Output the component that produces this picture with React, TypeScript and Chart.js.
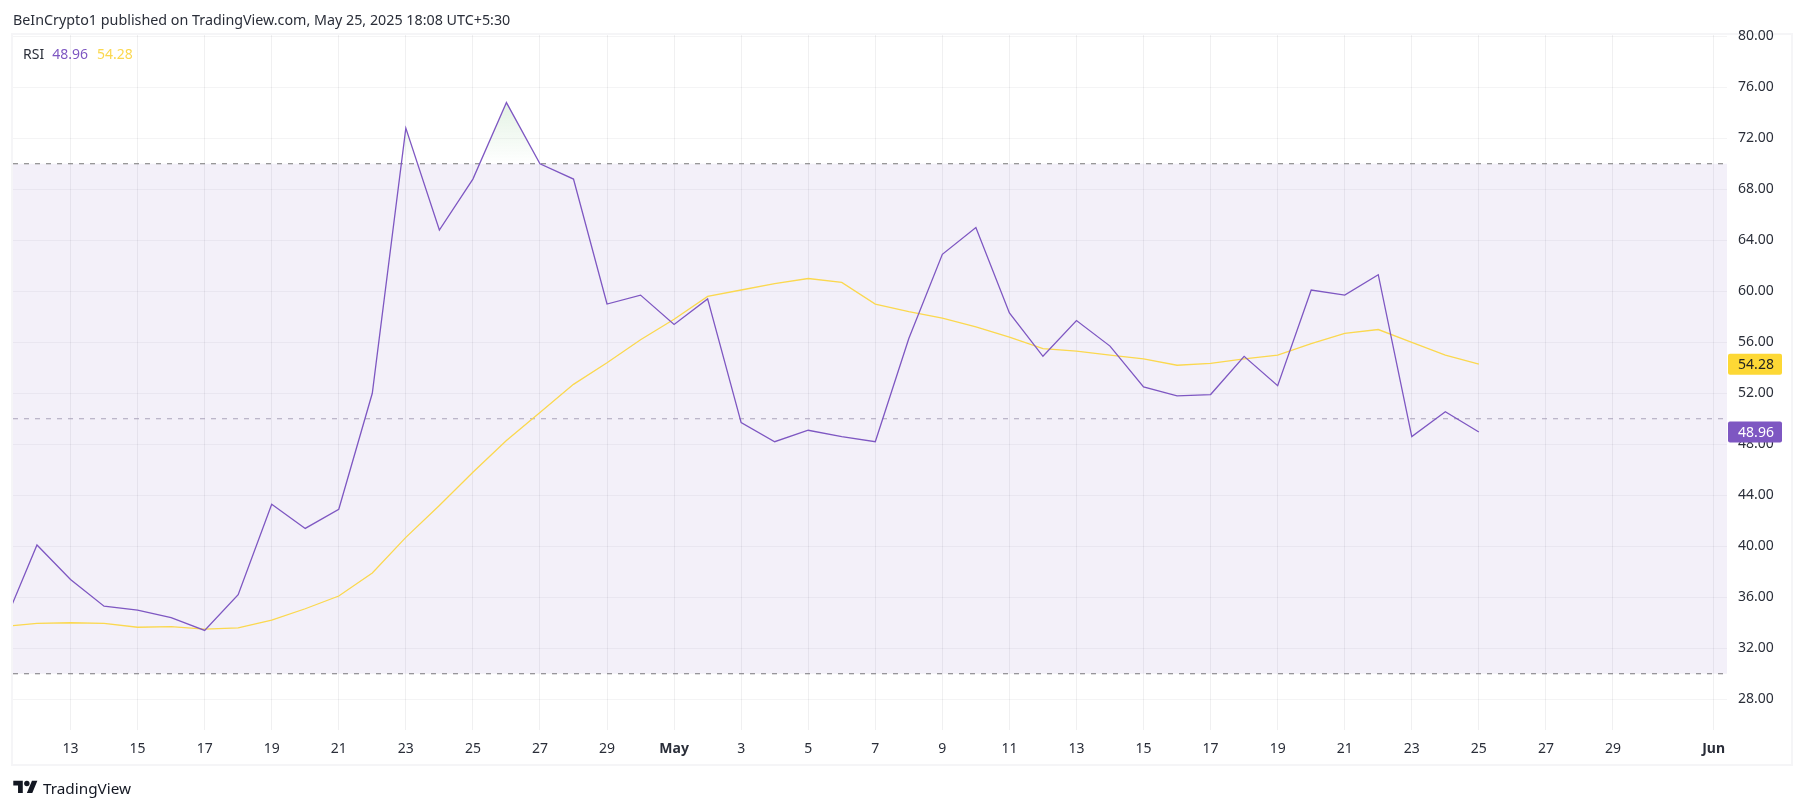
import { useEffect, useRef } from "react";
import { Chart, registerables } from "chart.js";

Chart.register(...registerables);

// day numbers run on from April: 31 = May 1, 62 = Jun 1
const days = [11, 12, 13, 14, 15, 16, 17, 18, 19, 20, 21, 22, 23, 24, 25, 26, 27, 28, 29, 30, 31, 32, 33, 34, 35, 36, 37, 38, 39, 40, 41, 42, 43, 44, 45, 46, 47, 48, 49, 50, 51, 52, 53, 54, 55];
const rsiValues = [33.8, 40.1, 37.4, 35.3, 35.0, 34.4, 33.4, 36.2, 43.3, 41.4, 42.9, 52.0, 72.8, 64.8, 68.8, 74.8, 70.0, 68.8, 59.0, 59.7, 57.4, 59.4, 49.7, 48.2, 49.1, 48.6, 48.2, 56.3, 62.9, 65.0, 58.3, 54.9, 57.7, 55.7, 52.5, 51.8, 51.9, 54.9, 52.6, 60.1, 59.7, 61.3, 48.6, 50.55, 48.96];
const maValues = [33.7, 33.95, 34.0, 33.95, 33.65, 33.7, 33.5, 33.6, 34.2, 35.1, 36.1, 37.9, 40.7, 43.2, 45.8, 48.3, 50.5, 52.7, 54.4, 56.2, 57.8, 59.6, 60.1, 60.6, 61.0, 60.7, 59.0, 58.4, 57.9, 57.2, 56.4, 55.5, 55.3, 55.0, 54.7, 54.2, 54.35, 54.7, 55.0, 55.9, 56.7, 57.0, 56.0, 55.0, 54.28];

const xTickDays = [13, 15, 17, 19, 21, 23, 25, 27, 29, 31, 33, 35, 37, 39, 41, 43, 45, 47, 49, 51, 53, 55, 57, 59, 62];
const xTickLabels = ["13", "15", "17", "19", "21", "23", "25", "27", "29", "May", "3", "5", "7", "9", "11", "13", "15", "17", "19", "21", "23", "25", "27", "29", "Jun"];
const yTicks = [28, 32, 36, 40, 44, 48, 52, 56, 60, 64, 68, 72, 76, 80];

const xRange = [11.285, 62.4];
const yRange = [25.59, 80.1];
const upperLevel = 70;
const middleLevel = 50;
const lowerLevel = 30;

const PURPLE = "#7e57c2";
const YELLOW = "#fdd835";
const MA_LINE = "#fbd84f";
const FONT = '"Noto Sans", sans-serif';

const toPoints = (values: number[]) => values.map((y, i) => ({ x: days[i], y }));
const levelLine = (y: number) => xRange.map((x) => ({ x, y }));

// price-scale badges for the last values
const lastValueBadges = {
  id: "lastValueBadges",
  afterDraw(chart: Chart) {
    const { ctx, scales } = chart;
    const badges = [
      { value: maValues[maValues.length - 1], bg: YELLOW, fg: "#222" },
      { value: rsiValues[rsiValues.length - 1], bg: PURPLE, fg: "#fff" },
    ];
    ctx.save();
    ctx.font = `14px ${FONT}`;
    ctx.textBaseline = "middle";
    ctx.textAlign = "center";
    badges.forEach((b) => {
      const y = scales.y.getPixelForValue(b.value);
      ctx.fillStyle = b.bg;
      ctx.beginPath();
      ctx.roundRect(1728, y - 10.5, 54, 21, 2);
      ctx.fill();
      ctx.fillStyle = b.fg;
      ctx.fillText(b.value.toFixed(2), 1756, y + 1);
    });
    ctx.restore();
  },
};

export default function App() {
  const chartRef = useRef<HTMLCanvasElement>(null);

  useEffect(() => {
    if (!chartRef.current) return;

    const chart = new Chart(chartRef.current, {
      type: "line",
      data: {
        datasets: [
          {
            label: "RSI",
            data: toPoints(rsiValues),
            borderColor: PURPLE,
            borderWidth: 1.3,
            pointRadius: 0,
            tension: 0,
            fill: { target: { value: upperLevel }, below: "rgba(0,0,0,0)" },
            backgroundColor: (c: any) => {
              const { ctx, scales } = c.chart;
              const top = scales.y ? scales.y.getPixelForValue(75) : NaN;
              const bottom = scales.y ? scales.y.getPixelForValue(upperLevel) : NaN;
              // scales have no pixels until the first layout is done
              if (!Number.isFinite(top) || !Number.isFinite(bottom)) return "rgba(0,0,0,0)";
              const g = ctx.createLinearGradient(0, top, 0, bottom);
              g.addColorStop(0, "rgba(76,175,80,0.16)");
              g.addColorStop(1, "rgba(76,175,80,0)");
              return g;
            },
          },
          {
            label: "RSI-based MA",
            data: toPoints(maValues),
            borderColor: MA_LINE,
            borderWidth: 1.3,
            pointRadius: 0,
            tension: 0,
            fill: false,
          },
          {
            label: "Upper",
            data: levelLine(upperLevel),
            borderColor: "#787878",
            borderWidth: 1.2,
            borderDash: [5, 6],
            pointRadius: 0,
            fill: { target: { value: lowerLevel } },
            backgroundColor: "rgba(126,87,194,0.09)",
          },
          {
            label: "Middle",
            data: levelLine(middleLevel),
            borderColor: "#aeabba",
            borderWidth: 1.2,
            borderDash: [5, 6],
            pointRadius: 0,
            fill: false,
          },
          {
            label: "Lower",
            data: levelLine(lowerLevel),
            borderColor: "#787878",
            borderWidth: 1.2,
            borderDash: [5, 6],
            pointRadius: 0,
            fill: false,
          },
        ],
      },
      options: {
        responsive: false,
        animation: false,
        events: [],
        layout: { padding: { left: 13, top: 35, right: 13, bottom: 44 } },
        plugins: {
          legend: { display: false },
          tooltip: { enabled: false },
        },
        scales: {
          x: {
            type: "linear",
            min: xRange[0],
            max: xRange[1],
            afterBuildTicks: (axis: any) => {
              axis.ticks = xTickDays.map((value) => ({ value }));
            },
            afterFit: (axis: any) => {
              axis.height = 35;
            },
            grid: { color: "rgba(42,46,57,0.07)", drawTicks: false },
            border: { display: false },
            ticks: {
              autoSkip: false,
              maxRotation: 0,
              padding: 11,
              color: "#2a2e39",
              font: (c: any) => ({
                family: FONT,
                size: 14,
                weight: c.tick && (c.tick.value === 31 || c.tick.value === 62) ? "bold" : "normal",
              }),
              callback: (value: any) => xTickLabels[xTickDays.indexOf(value)],
            },
          },
          y: {
            type: "linear",
            position: "right",
            min: yRange[0],
            max: yRange[1],
            afterBuildTicks: (axis: any) => {
              axis.ticks = yTicks.map((value) => ({ value }));
            },
            afterFit: (axis: any) => {
              axis.width = 65;
            },
            grid: { color: "rgba(42,46,57,0.05)", drawTicks: false },
            border: { display: false },
            ticks: {
              padding: 11,
              color: "#2a2e39",
              font: { family: FONT, size: 14 },
              callback: (value: any) => Number(value).toFixed(2),
            },
          },
        },
      },
      plugins: [lastValueBadges],
    });

    return () => chart.destroy();
  }, []);

  return (
    <div style={{ position: "fixed", left: 0, top: 0, width: 1805, height: 809, background: "#fff", fontFamily: FONT, overflow: "hidden" }}>
      <div style={{ position: "absolute", left: 11, top: 33, width: 1782, height: 733, boxSizing: "border-box", border: "2px solid #f5f5f7" }} />
      <canvas ref={chartRef} width={1805} height={809} style={{ position: "absolute", left: 0, top: 0, display: "block" }} />
      <div style={{ position: "absolute", left: 13, top: 10, fontSize: 14.3, lineHeight: "20px", color: "#2a2e39", whiteSpace: "nowrap" }}>
        BeInCrypto1 published on TradingView.com, May 25, 2025 18:08 UTC+5:30
      </div>
      <div style={{ position: "absolute", left: 23, top: 44, fontSize: 14, lineHeight: "20px", whiteSpace: "nowrap" }}>
        <span style={{ color: "#2a2e39" }}>RSI</span>
        <span style={{ color: PURPLE, marginLeft: 8 }}>48.96</span>
        <span style={{ color: MA_LINE, marginLeft: 9 }}>54.28</span>
      </div>
      <svg viewBox="0 0 36 28" width={25} height={19} style={{ position: "absolute", left: 13, top: 778 }} fill="#131722">
        <path d="M14 22H7V11H0V4h14v18zM28 22h-8l7.5-18h8L28 22z" />
        <circle cx="20" cy="8" r="4" />
      </svg>
      <div style={{ position: "absolute", left: 43, top: 776, fontSize: 15.3, lineHeight: "24px", color: "#131722", whiteSpace: "nowrap" }}>
        TradingView
      </div>
    </div>
  );
}
